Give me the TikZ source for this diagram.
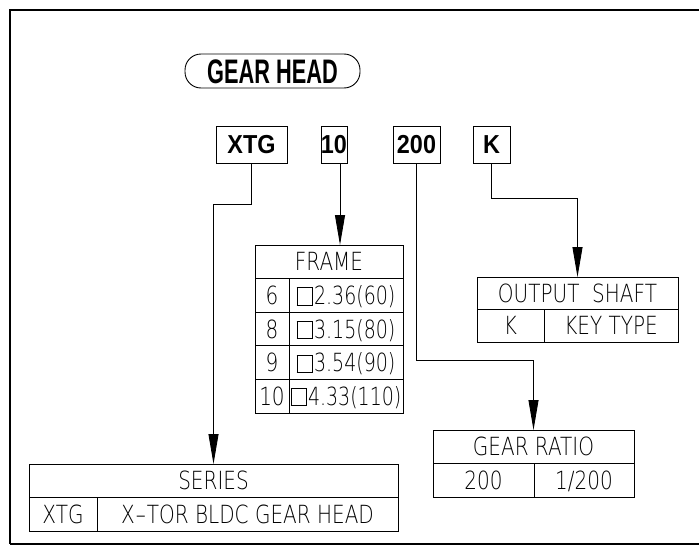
\documentclass[tikz,border=0pt]{standalone}
\usepackage{fontspec}
\usetikzlibrary{positioning,arrows.meta}
\newfontfamily\cadfont{DejaVuSans-ExtraLight}[Extension=.ttf,FakeStretch=0.8]
\newfontfamily\sizefont{DejaVuSans-ExtraLight}[Extension=.ttf,FakeStretch=0.76]
\newfontfamily\gearfont{Liberation Sans}[FakeStretch=0.64]
\newfontfamily\codefont{Liberation Sans}[FakeStretch=0.9]
\newcommand{\sqmark}{{\setlength{\fboxsep}{0pt}\setlength{\fboxrule}{0.7pt}\fbox{\rule{0pt}{16.5pt}\hspace{15pt}}}\kern1pt}

\begin{document}
\begin{tikzpicture}[x=1pt, y=-1pt,
    cell/.style={draw, line width=0.8pt, outer sep=0pt, inner sep=0pt, anchor=north west, text height=18.2pt, text depth=0pt, font=\cadfont\fontsize{25}{25}\selectfont},
    sizecell/.style={cell, font=\sizefont\fontsize{25}{25}\selectfont},
    codebox/.style={draw, line width=0.9pt, outer sep=0pt, inner sep=0pt, minimum height=37pt, text height=18.6pt, text depth=0pt, font=\codefont\bfseries\fontsize{26}{26}\selectfont},
    conn/.style={line width=0.9pt, -{Triangle[length=30pt,width=10pt]}}]

        \useasboundingbox (0,0) rectangle (699,546);
        \draw[line width=2pt] (699,10) -| (10,544);
        \draw[line width=1.2pt] (10,544) -- (699,544);

        % title and code
        \node[draw, line width=0.9pt, rounded corners=16pt, minimum width=175pt, minimum height=34pt, inner sep=0pt, text height=24.3pt, text depth=0pt, font=\gearfont\bfseries\fontsize{34}{34}\selectfont] (title) at (272.5,71) {GEAR HEAD};
        \node[codebox, minimum width=71pt] (xtg) at (251.5,144.5) {XTG};
        \node[codebox, minimum width=26pt] (ten) at (334,144.5) {10};
        \node[codebox, minimum width=47pt] (ratio) at (416.5,144.5) {200};
        \node[codebox, minimum width=37pt] (key) at (491.5,144.5) {K};

        % frame table
        \node[cell, minimum width=148pt, minimum height=33.6pt] (framehead) at (255,245) {FRAME};
        \node[cell, minimum width=34pt, minimum height=33.6pt] (frame6) at (framehead.south west) {6};
        \node[sizecell, minimum width=114pt, minimum height=33.6pt] (frame6s) at (frame6.north east) {\sqmark2.36(60)};
        \node[cell, minimum width=34pt, minimum height=33.6pt] (frame8) at (frame6.south west) {8};
        \node[sizecell, minimum width=114pt, minimum height=33.6pt] (frame8s) at (frame8.north east) {\sqmark3.15(80)};
        \node[cell, minimum width=34pt, minimum height=33.6pt] (frame9) at (frame8.south west) {9};
        \node[sizecell, minimum width=114pt, minimum height=33.6pt] (frame9s) at (frame9.north east) {\sqmark3.54(90)};
        \node[cell, minimum width=34pt, minimum height=33.6pt] (frame10) at (frame9.south west) {10};
        \node[sizecell, minimum width=114pt, minimum height=33.6pt] (frame10s) at (frame10.north east) {\sqmark4.33(110)};

        % output shaft table
        \node[cell, minimum width=201pt, minimum height=32.5pt] (shafthead) at (477,277) {OUTPUT\ \ SHAFT};
        \node[cell, minimum width=67pt, minimum height=32.5pt] (shaftk) at (shafthead.south west) {K};
        \node[cell, minimum width=134pt, minimum height=32.5pt] (shaftkt) at (shaftk.north east) {KEY TYPE};

        % gear ratio table
        \node[cell, minimum width=201pt, minimum height=33.5pt] (ratiohead) at (433,430) {GEAR RATIO};
        \node[cell, minimum width=101pt, minimum height=33.5pt] (ratio200) at (ratiohead.south west) {200};
        \node[cell, minimum width=100pt, minimum height=33.5pt] (ratio200v) at (ratio200.north east) {1/200};

        % series table
        \node[cell, minimum width=369pt, minimum height=33.5pt] (serieshead) at (29,464) {SERIES};
        \node[cell, minimum width=68pt, minimum height=33.5pt] (seriesx) at (serieshead.south west) {XTG};
        \node[cell, minimum width=301pt, minimum height=33.5pt] (seriesxt) at (seriesx.north east) {X\kern1pt–\kern1pt TOR BLDC GEAR HEAD};

        \coordinate (xtgbend) at (0,204);
        \coordinate (keybend) at (0,198);
        \coordinate (ratiobend) at (0,360);

        \draw[conn] (xtg.south) -- (xtg.south |- xtgbend) -| (serieshead.north);
        \draw[conn] ([xshift=6pt]ten.south) -- ([xshift=6pt]ten.south |- framehead.north);
        \draw[conn] (ratio.south) -- (ratio.south |- ratiobend) -| (ratiohead.north);
        \draw[conn] (key.south) -- (key.south |- keybend) -| (shafthead.north);
\end{tikzpicture}
\end{document}
